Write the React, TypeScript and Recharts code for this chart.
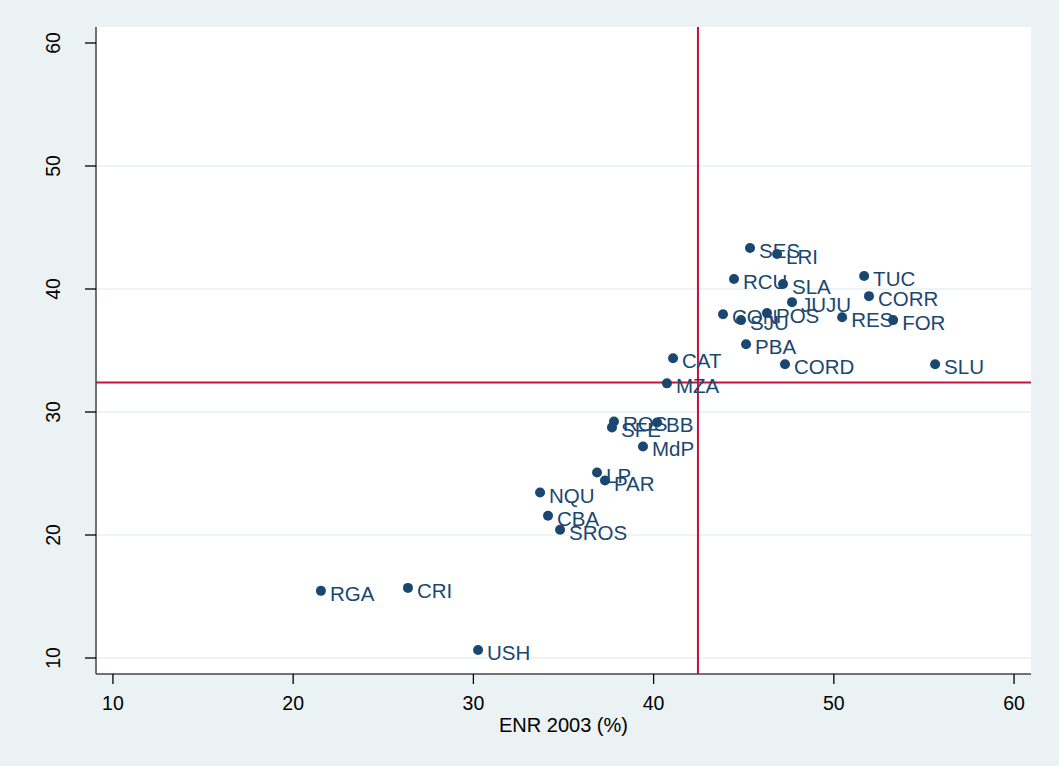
import React from "react";
import { CartesianGrid, Label, ReferenceLine, Scatter, ScatterChart, XAxis, YAxis } from "recharts";

const cities = ["SES", "LRI", "RCU", "SLA", "TUC", "CORR", "JUJU", "CON", "SJU", "POS", "RES", "FOR", "PBA", "CORD", "SLU", "CAT", "MZA", "ROS", "SFE", "BB", "MdP", "LP", "PAR", "NQU", "CBA", "SROS", "RGA", "CRI", "USH"];
const enr2003 = [45.35, 46.85, 44.46, 47.18, 51.68, 51.95, 47.68, 43.85, 44.85, 46.29, 50.46, 53.29, 45.13, 47.29, 55.62, 41.08, 40.74, 37.8, 37.69, 40.19, 39.41, 36.86, 37.3, 33.7, 34.14, 34.81, 21.54, 26.37, 30.26];
const yValues = [43.33, 42.84, 40.81, 40.4, 41.05, 39.42, 38.93, 37.95, 37.47, 38.04, 37.71, 37.47, 35.51, 33.88, 33.88, 34.37, 32.33, 29.23, 28.75, 29.15, 27.2, 25.08, 24.43, 23.45, 21.57, 20.43, 15.46, 15.7, 10.65];
const ticks = [10, 20, 30, 40, 50, 60];
const gridValues = [10, 20, 30, 40, 50];
const meanX = 42.46;
const meanY = 32.4;

const data = cities.map((name, i) => ({ name, x: enr2003[i], y: yValues[i] }));

const navy = "#1a476f";
const red = "#c7103a";
const font = "'Liberation Sans', Arial, sans-serif";

const renderPoint = (props: any) => {
  const { cx, cy, payload } = props;
  return (
    <g>
      <circle cx={cx} cy={cy} r={5} fill={navy} />
      <text x={cx + 9} y={cy + 10} fontSize={20.5} fill={navy} fontFamily={font}>
        {payload.name}
      </text>
    </g>
  );
};

const YTick = (props: any) => {
  const { x, y, payload } = props;
  return (
    <text x={x} y={y} transform={`rotate(-90 ${x} ${y})`} textAnchor="middle" fontSize={19.5} fill="#000" fontFamily={font}>
      {payload.value}
    </text>
  );
};

export default function App() {
  return (
    <div style={{ position: "absolute", left: 0, top: 0, width: 1059, height: 766, background: "#eaf2f3" }}>
      <ScatterChart width={1059} height={766} margin={{ top: 27, right: 28, left: 0, bottom: 0 }}>
        <CartesianGrid fill="#ffffff" fillOpacity={1} vertical={false} horizontalValues={gridValues} stroke="#eaf2f3" strokeWidth={1.5} />
        <XAxis
          type="number"
          dataKey="x"
          domain={[9.06, 60.94]}
          ticks={ticks}
          height={92}
          tickSize={10}
          tickMargin={12}
          axisLine={{ stroke: "#444", strokeWidth: 1.5 }}
          tickLine={{ stroke: "#000", strokeWidth: 1.3 }}
          tick={{ fill: "#000", fontSize: 19.5, fontFamily: font }}
        >
          <Label value="ENR 2003 (%)" position="insideBottom" offset={34} style={{ fill: "#000", fontSize: 20, fontFamily: font }} />
        </XAxis>
        <YAxis
          type="number"
          dataKey="y"
          domain={[8.7, 61.3]}
          ticks={ticks}
          width={96}
          tickSize={11}
          tickMargin={25}
          axisLine={{ stroke: "#444", strokeWidth: 1.5 }}
          tickLine={{ stroke: "#000", strokeWidth: 1.3 }}
          tick={<YTick />}
        />
        <Scatter data={data} shape={renderPoint} isAnimationActive={false} />
        <ReferenceLine x={meanX} stroke={red} strokeWidth={2} />
        <ReferenceLine y={meanY} stroke={red} strokeWidth={2} />
      </ScatterChart>
    </div>
  );
}
